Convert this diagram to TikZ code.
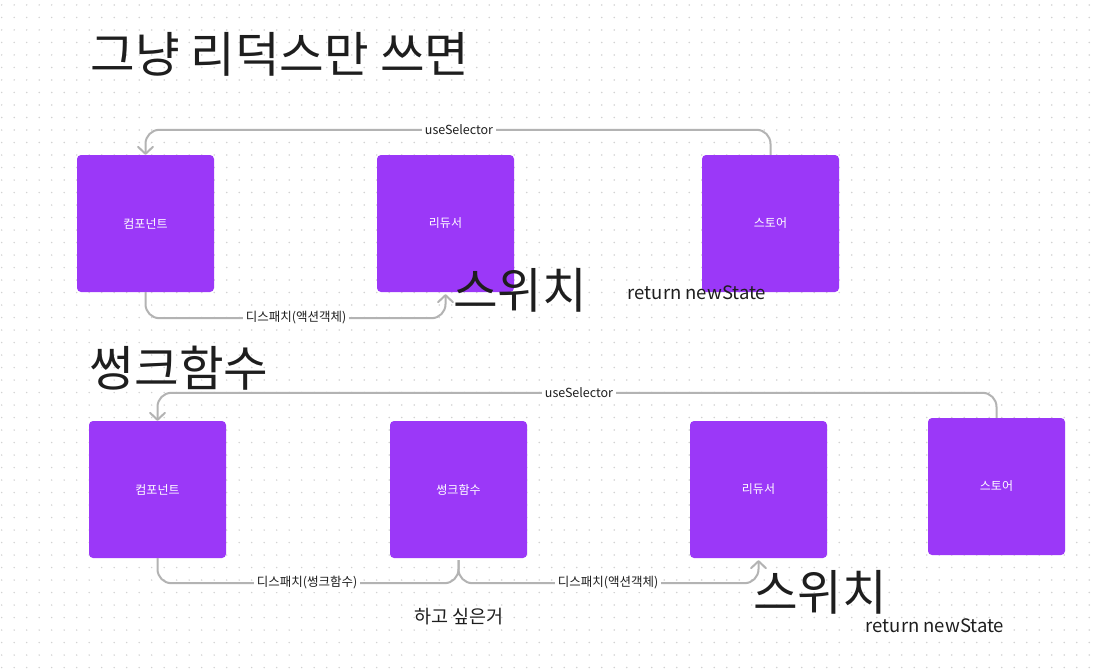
\documentclass[tikz,border=0pt]{standalone}
\usepackage{fontspec}
\setmainfont{Noto Sans CJK KR}
\usetikzlibrary{arrows.meta,positioning}

\definecolor{boxpurple}{HTML}{9B38F8}
\definecolor{linegray}{HTML}{B3B3B3}
\definecolor{inkdark}{HTML}{1E1E1E}
\definecolor{dotgray}{HTML}{D2D2D2}

\begin{document}
\begin{tikzpicture}[
    x=1pt, y=-1pt,
    block/.style={fill=boxpurple, rounded corners=4pt, minimum width=137pt, minimum height=137pt, inner sep=0pt, text=white, font=\fontsize{12}{14}\selectfont},
    link/.style={draw=linegray, line width=2pt, rounded corners=14pt},
    arrow/.style={link, -{Straight Barb[length=7pt, width=15pt, round]}},
    edgelabel/.style={fill=white, inner sep=3pt, text=inkdark, font=\fontsize{12.5}{14}\selectfont},
    heading/.style={text=inkdark, inner sep=0pt, font=\fontsize{48.5}{52}\selectfont},
    note/.style={text=inkdark, inner sep=0pt, font=\fontsize{18.5}{21}\selectfont}
  ]
  \useasboundingbox[fill=white] (0,0) rectangle (1096,669);

  % dot grid
  \foreach \i in {0,...,87}
    \foreach \j in {0,...,53}
      \fill[dotgray] ({1.7+12.5*\i},{5+12.5*\j}) circle (0.8);

  % plain redux
  \node[heading] (title1) at (280,54) {그냥 리덕스만 쓰면};
  \node[block] (comp1) at (145.5,223.5) {컴포넌트};
  \node[block] (reducer1) at (445.5,223.5) {리듀서};
  \node[block] (store1) at (770.5,223.5) {스토어};

  \draw[arrow] (store1.north) -- ++(0,-25) -| (comp1.north);
  \draw[arrow, shorten >=2pt] (comp1.south) -- ++(0,26) -| (reducer1.south);
  \node[edgelabel] (select1) at (459,130) {useSelector};
  \node[edgelabel] (dispatch1) at (296,318) {디스패치(액션객체)};

  \node[heading] (switch1) at (520,290) {스위치};
  \node[note] (return1) at (697,293) {return newState};

  % with thunk
  \node[heading] (title2) at (179,368) {썽크함수};
  \node[block] (comp2) at (157.5,489.5) {컴포넌트};
  \node[block] (thunk2) at (458.5,489.5) {썽크함수};
  \node[block] (reducer2) at (758.5,489.5) {리듀서};
  \node[block] (store2) at (996.5,486.5) {스토어};

  \draw[arrow] (store2.north) -- ++(0,-25) -| (comp2.north);
  \draw[link] (comp2.south) -- ++(0,25) -| ([yshift=-2pt]thunk2.south);
  \draw[arrow, shorten >=2pt] ([yshift=-2pt]thunk2.south) |- ++(0,23) -| (reducer2.south);
  \node[edgelabel] (select2) at (579,393) {useSelector};
  \node[edgelabel] (dispatch2) at (307,583) {디스패치(썽크함수)};
  \node[edgelabel] (dispatch3) at (608,583) {디스패치(액션객체)};

  \node[heading] (switch2) at (820,592) {스위치};
  \node[note] (return2) at (935,626) {return newState};
  \node[note] (wish) at (459,617) {하고 싶은거};
\end{tikzpicture}
\end{document}
